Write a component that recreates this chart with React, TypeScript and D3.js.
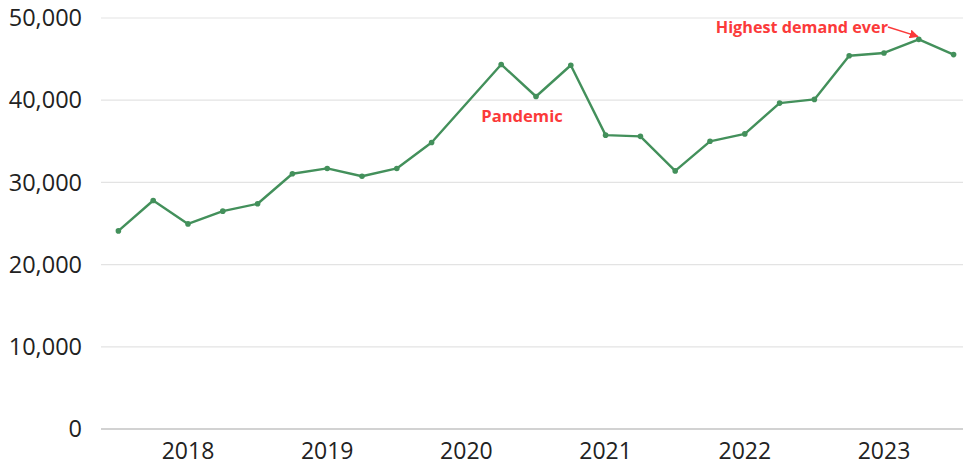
import React from 'react';
import * as d3 from 'd3';

// quarterly demand, 2017 Q3 .. 2023 Q3 (2020 Q1 is missing in the source)
const quarters = [
    '2017 Q3', '2017 Q4',
    '2018 Q1', '2018 Q2', '2018 Q3', '2018 Q4',
    '2019 Q1', '2019 Q2', '2019 Q3', '2019 Q4',
    '2020 Q1', '2020 Q2', '2020 Q3', '2020 Q4',
    '2021 Q1', '2021 Q2', '2021 Q3', '2021 Q4',
    '2022 Q1', '2022 Q2', '2022 Q3', '2022 Q4',
    '2023 Q1', '2023 Q2', '2023 Q3',
];
const demand: (number | null)[] = [
    24100, 27800,
    24950, 26500, 27400, 31050,
    31700, 30750, 31700, 34850,
    null, 44350, 40450, 44250,
    35750, 35600, 31400, 35000,
    35900, 39650, 40100, 45400,
    45750, 47400, 45550,
];
const yearLabels = ['2018', '2019', '2020', '2021', '2022', '2023'];
const yTicks = [0, 10000, 20000, 30000, 40000, 50000];

const W = 963;
const H = 465;
const FONT = '"Open Sans", sans-serif';
const GREEN = '#43905b';
const RED = '#fb3a3a';

const App: React.FC = () => {
    const x = d3.scalePoint<string>()
        .domain(quarters)
        .range([101, 971])
        .padding(0.5);
    const y = d3.scaleLinear().domain([0, 50000]).range([429, 18]);
    const fmt = d3.format(',');

    const pts = quarters
        .map((q, i) => ({ q, v: demand[i] }))
        .filter(d => d.v !== null) as { q: string; v: number }[];

    const line = d3.line<{ q: string; v: number }>()
        .x(d => x(d.q)!)
        .y(d => y(d.v));

    const peak = pts[d3.maxIndex(pts, d => d.v)];
    const px = x(peak.q)!;
    const py = y(peak.v);

    return (
        <svg width={W} height={H} style={{ position: 'absolute', left: 0, top: 0, fontFamily: FONT }}>
            <defs>
                <marker id="arr" viewBox="0 0 10 10" refX="9" refY="5" markerWidth="6" markerHeight="6" orient="auto">
                    <path d="M0,0 L10,5 L0,10 z" fill={RED} />
                </marker>
            </defs>
            {yTicks.map(t => (
                <g key={t}>
                    <line x1={101} x2={W} y1={y(t)} y2={y(t)}
                        stroke={t === 0 ? '#a6a6a6' : '#e3e3e3'} strokeWidth={1.2} />
                    <text x={82} y={y(t)} dy="0.35em" textAnchor="end" fontSize={23.5} fill="#222">{fmt(t)}</text>
                </g>
            ))}
            {yearLabels.map(yr => (
                <text key={yr} x={x(`${yr} Q1`)} y={451} dy="0.35em" textAnchor="middle" fontSize={23} fill="#222">{yr}</text>
            ))}
            <path d={line(pts) || ''} fill="none" stroke={GREEN} strokeWidth={2.4} strokeLinejoin="round" />
            {pts.map(d => (
                <circle key={d.q} cx={x(d.q)} cy={y(d.v)} r={2.8} fill={GREEN} />
            ))}
            <text x={522} y={116} dy="0.35em" textAnchor="middle" fontSize={16.6} fontWeight="bold" fill={RED}>Pandemic</text>
            <text x={888} y={27} dy="0.35em" textAnchor="end" fontSize={16.2} fontWeight="bold" fill={RED}>Highest demand ever</text>
            <line x1={888} y1={27} x2={px - 1} y2={py - 3} stroke={RED} strokeWidth={1.5} markerEnd="url(#arr)" />
        </svg>
    );
};

export default App;
